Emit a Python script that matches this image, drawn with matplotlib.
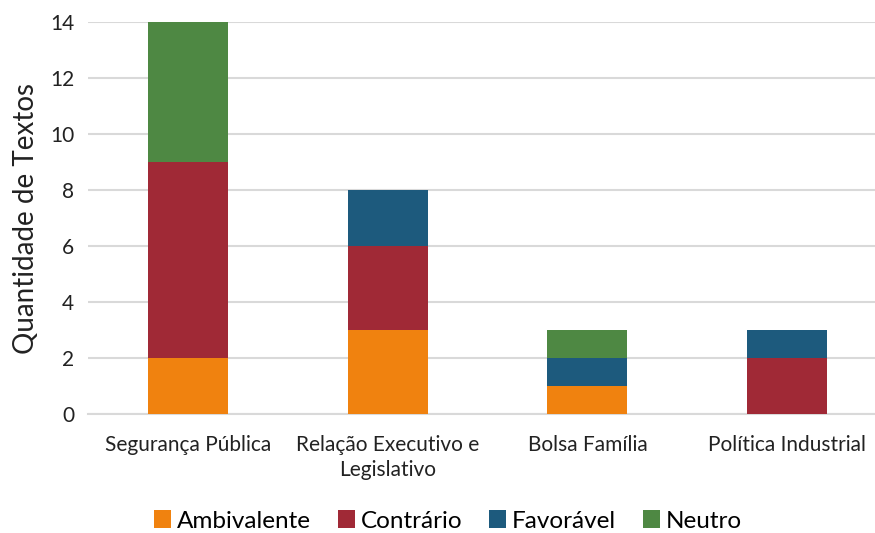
import matplotlib
matplotlib.use("Agg")
import matplotlib.pyplot as plt
import numpy as np

categories = ["Segurança Pública", "Relação Executivo e\nLegislativo", "Bolsa Família", "Política Industrial"]
ambivalente = [2, 3, 1, 0]
contrario = [7, 3, 0, 2]
favoravel = [0, 2, 1, 1]
neutro = [5, 0, 1, 0]

series = [
    ("Ambivalente", ambivalente, "#F0820F"),
    ("Contrário", contrario, "#A02936"),
    ("Favorável", favoravel, "#1D5A7D"),
    ("Neutro", neutro, "#4E8843"),
]

plt.rcParams["font.family"] = ["Lato", "DejaVu Sans"]

fig = plt.figure(figsize=(8.75, 5.33), dpi=100)
ax = fig.add_axes([88 / 875, 119 / 533, 799 / 875, 392 / 533])

x = np.arange(len(categories))
bottom = np.zeros(len(categories))
for name, vals, color in series:
    vals = np.array(vals, dtype=float)
    ax.bar(x, vals, 0.4, bottom=bottom, color=color, label=name, zorder=3)
    bottom += vals

ax.set_xlim(-0.5, 3.5)
ax.set_ylim(0, 14)
ax.set_yticks(range(0, 15, 2))
ax.set_xticks(x)
ax.set_xticklabels(categories, fontsize=15, color="#222222", linespacing=1.3)
ax.tick_params(axis="y", labelsize=15, colors="#222222", length=0, pad=10)
ax.tick_params(axis="x", length=0, pad=15)
ax.grid(axis="y", color="#d9d9d9", linewidth=1.5, zorder=0)
for s in ["top", "right", "left"]:
    ax.spines[s].set_visible(False)
ax.spines["bottom"].set_color("#d9d9d9")
ax.spines["bottom"].set_linewidth(1.5)
ax.set_ylabel("Quantidade de Textos", fontsize=20, color="#222222", labelpad=8)

fig.legend(loc="center", bbox_to_anchor=(448 / 875, 1 - 521 / 533), ncol=4, frameon=False,
           fontsize=17.5, handlelength=0.7, handleheight=0.7, handletextpad=0.25, columnspacing=1.1)

fig.savefig("out.png", dpi=100)
